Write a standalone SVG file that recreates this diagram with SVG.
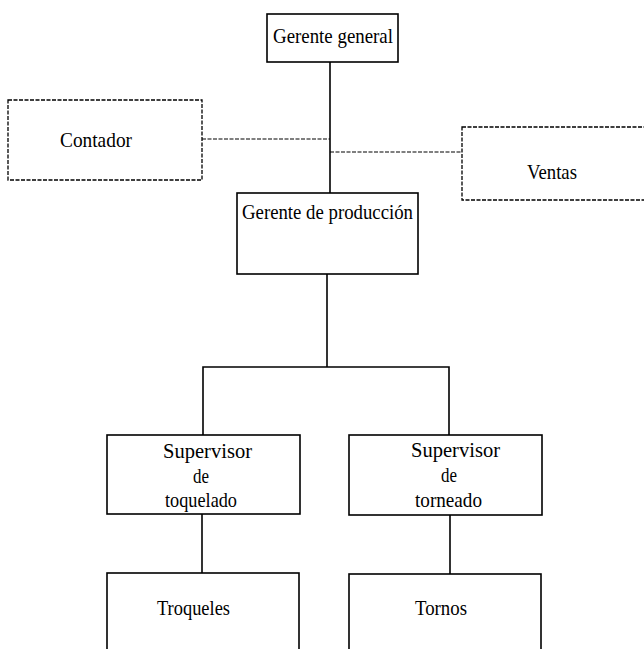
<svg xmlns="http://www.w3.org/2000/svg" width="644" height="649" viewBox="0 0 644 649">
  <style>
    .box { fill: #ffffff; stroke: #000000; stroke-width: 1.6; }
    .staff { fill: #ffffff; stroke: #000000; stroke-width: 1.3; stroke-dasharray: 4 1.5; }
    .line { fill: none; stroke: #000000; stroke-width: 1.6; }
    .dash { fill: none; stroke: #000000; stroke-width: 1.2; stroke-dasharray: 4 1.5; }
    text { font-family: "Liberation Serif", "DejaVu Serif", "Times New Roman", serif; font-size: 21px; fill: #000000; }
  </style>
  <rect width="644" height="649" fill="#ffffff"/>

  <!-- connectors -->
  <g id="connectors">
    <line class="line" x1="330" y1="62" x2="330" y2="193"/>
    <line class="dash" x1="202" y1="139" x2="330" y2="139"/>
    <line class="dash" x1="330" y1="152" x2="462" y2="152"/>
    <polyline class="line" points="327,274 327,367"/>
    <polyline class="line" points="203,435 203,367 449,367 449,435"/>
    <line class="line" x1="202" y1="514" x2="202" y2="573"/>
    <line class="line" x1="450" y1="515" x2="450" y2="574"/>
  </g>

  <g id="gerente-general">
    <rect class="box" x="267" y="14" width="131" height="48"/>
    <text x="273" y="43" textLength="120" lengthAdjust="spacingAndGlyphs">Gerente general</text>
  </g>

  <g id="contador">
    <rect class="staff" x="8" y="100" width="194" height="80"/>
    <text x="60" y="147" textLength="72" lengthAdjust="spacingAndGlyphs">Contador</text>
  </g>

  <g id="ventas">
    <rect class="staff" x="462" y="127" width="190" height="73"/>
    <text x="527" y="179" textLength="50" lengthAdjust="spacingAndGlyphs">Ventas</text>
  </g>

  <g id="gerente-produccion">
    <rect class="box" x="237" y="193" width="181" height="81"/>
    <text x="242" y="219" textLength="171" lengthAdjust="spacingAndGlyphs">Gerente de producción</text>
  </g>

  <g id="supervisor-toquelado">
    <rect class="box" x="107" y="435" width="193" height="79"/>
    <text x="163" y="458" textLength="89" lengthAdjust="spacingAndGlyphs">Supervisor</text>
    <text x="193" y="483" textLength="16" lengthAdjust="spacingAndGlyphs">de</text>
    <text x="165" y="507" textLength="72" lengthAdjust="spacingAndGlyphs">toquelado</text>
  </g>

  <g id="supervisor-torneado">
    <rect class="box" x="349" y="435" width="193" height="80"/>
    <text x="411" y="457" textLength="89" lengthAdjust="spacingAndGlyphs">Supervisor</text>
    <text x="441" y="482" textLength="16" lengthAdjust="spacingAndGlyphs">de</text>
    <text x="415" y="507" textLength="67" lengthAdjust="spacingAndGlyphs">torneado</text>
  </g>

  <g id="troqueles">
    <rect class="box" x="107" y="573" width="192" height="90"/>
    <text x="157" y="615" textLength="73" lengthAdjust="spacingAndGlyphs">Troqueles</text>
  </g>

  <g id="tornos">
    <rect class="box" x="349" y="574" width="192" height="90"/>
    <text x="415" y="615" textLength="52" lengthAdjust="spacingAndGlyphs">Tornos</text>
  </g>
</svg>
